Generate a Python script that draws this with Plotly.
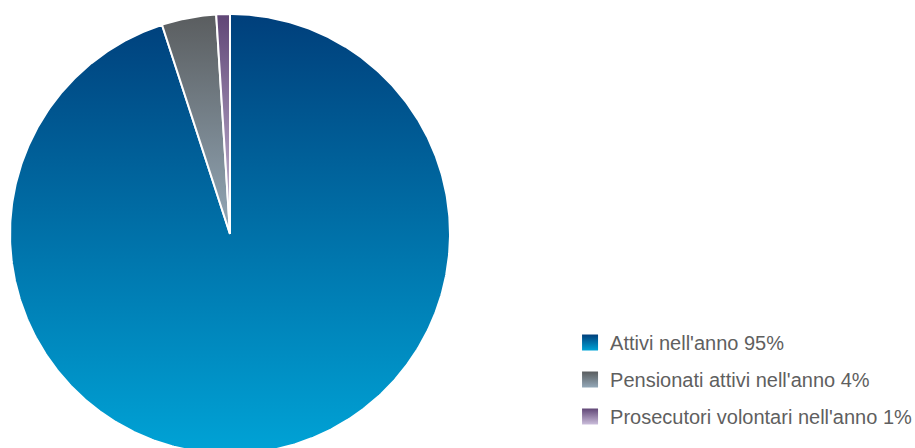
import numpy as np
import plotly.graph_objects as go

# Data
labels = ["Attivi nell'anno", "Pensionati attivi nell'anno", "Prosecutori volontari nell'anno"]
values = [95, 4, 1]

# Gradient colours for each slice (top -> bottom)
top_colors = ["#003f7b", "#5a5d5f", "#604676"]
bottom_colors = ["#00a3d6", "#93a8b8", "#cbbedb"]

RADIUS = 220
X_RANGE = [-230, 685]
Y_RANGE = [-214, 234]

fig = go.Figure()

fracs = np.array(values, dtype=float) / sum(values)
ends = np.cumsum(fracs)
starts = ends - fracs

# Pie slices as filled polygons, clockwise from 12 o'clock
for s, e, c_top, c_bot in zip(starts, ends, top_colors, bottom_colors):
    n = max(int((e - s) * 720), 8)
    t = np.linspace(s, e, n)
    ang = np.pi / 2 - 2 * np.pi * t
    x = np.concatenate([[0.0], RADIUS * np.cos(ang), [0.0]])
    y = np.concatenate([[0.0], RADIUS * np.sin(ang), [0.0]])
    fig.add_trace(go.Scatter(
        x=x, y=y, mode="lines", fill="toself",
        fillgradient=dict(type="vertical", colorscale=[[0, c_bot], [1, c_top]]),
        line=dict(color="white", width=2),
        showlegend=False, hoverinfo="skip",
    ))

# Legend entries with gradient squares (their single point lies outside the view)
for lab, v, c_top, c_bot in zip(labels, values, top_colors, bottom_colors):
    fig.add_trace(go.Scatter(
        x=[X_RANGE[1] * 10], y=[Y_RANGE[1] * 10], mode="markers",
        name=f"{lab} {v}%", legendgroup=lab, hoverinfo="skip",
        marker=dict(symbol="square", size=16, color=c_top,
                    gradient=dict(type="vertical", color=c_bot),
                    line=dict(width=0)),
    ))

fig.update_layout(
    width=915, height=448,
    margin=dict(l=0, r=0, t=0, b=0, autoexpand=False),
    paper_bgcolor="white", plot_bgcolor="white",
    xaxis=dict(range=X_RANGE, visible=False, fixedrange=True),
    yaxis=dict(range=Y_RANGE, visible=False, fixedrange=True),
    legend=dict(
        x=0.623, y=0.279, xanchor="left", yanchor="top",
        font=dict(family="Liberation Sans", size=20, color="#5f5f5f"),
        tracegroupgap=8, bgcolor="rgba(0,0,0,0)",
        itemsizing="trace",
    ),
)

fig.write_html("out.html")
